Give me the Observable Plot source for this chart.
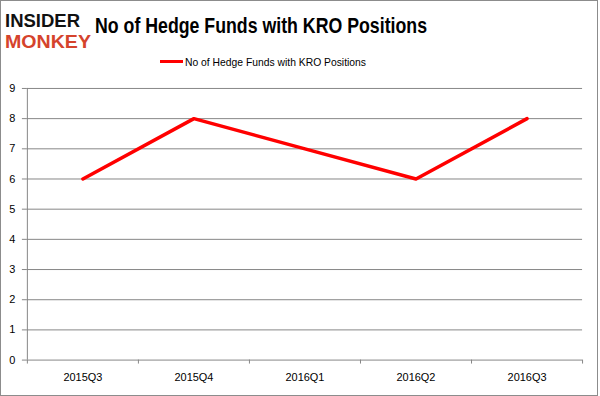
<!DOCTYPE html>
<html><head><meta charset="utf-8">
<script src="https://cdn.jsdelivr.net/npm/d3@7"></script>
<script src="https://cdn.jsdelivr.net/npm/@observablehq/plot@0.6"></script>
<style>
body{margin:0;background:#fff;}
#frame{position:relative;width:598px;height:396px;box-sizing:border-box;border:1px solid #8c8c8c;overflow:hidden;background:#fff;font-family:"Liberation Sans",Arial,sans-serif;}
#header{position:absolute;left:-1px;top:-1px;}
#chart{position:absolute;left:-1px;top:79px;}
</style></head><body>
<div id="frame">
<svg id="header" width="600" height="80" font-family="Liberation Sans, Arial, sans-serif">
  <text x="5" y="27" font-size="18" font-weight="bold" fill="#111" textLength="75" lengthAdjust="spacingAndGlyphs">INSIDER</text>
  <text x="5" y="48" font-size="18" font-weight="bold" fill="#d5432c" textLength="86" lengthAdjust="spacingAndGlyphs">MONKEY</text>
  <text x="95" y="33" font-size="22" font-weight="bold" fill="#000" textLength="332" lengthAdjust="spacingAndGlyphs">No of Hedge Funds with KRO Positions</text>
  <line x1="160" x2="183" y1="61.5" y2="61.5" stroke="#ff0000" stroke-width="3"/>
  <text x="185" y="65.5" font-size="10.5" fill="#000" textLength="181" lengthAdjust="spacingAndGlyphs">No of Hedge Funds with KRO Positions</text>
</svg>
<div id="chart"></div>
</div>
<script>
const quarters = ["2015Q3","2015Q4","2016Q1","2016Q2","2016Q3"];
const funds = [6, 8, 7, 6, 8];
const yTicks = [0,1,2,3,4,5,6,7,8,9];

const data = quarters.map((q, i) => ({q, i, v: funds[i]}));
const gray = "#868686";

const chart = Plot.plot({
  width: 600,
  height: 316,
  marginTop: 8,
  marginBottom: 35,
  marginLeft: 27,
  marginRight: 15,
  style: {fontFamily: "Liberation Sans, Arial, sans-serif", fontSize: "11px", color: "#000", background: "transparent"},
  x: {type: "linear", domain: [0, quarters.length]},
  y: {domain: [0, 9]},
  marks: [
    Plot.gridY(yTicks, {stroke: gray, strokeOpacity: 1}),
    Plot.ruleX([0], {stroke: gray}),
    Plot.axisY({ticks: yTicks, tickSize: 5, tickPadding: 7, stroke: gray, fill: "#000", label: null}),
    Plot.axisX({ticks: d3.range(quarters.length + 1), tickSize: 4, tickFormat: () => "", stroke: gray, label: null}),
    Plot.axisX({ticks: quarters.map((q, i) => i + 0.5), tickSize: 0, tickPadding: 13, fill: "#000",
      tickFormat: t => quarters[Math.floor(t)], label: null}),
    Plot.line(data, {x: d => d.i + 0.5, y: "v", stroke: "#ff0000", strokeWidth: 3.5})
  ]
});
document.getElementById("chart").appendChild(chart);
</script>
</body></html>
